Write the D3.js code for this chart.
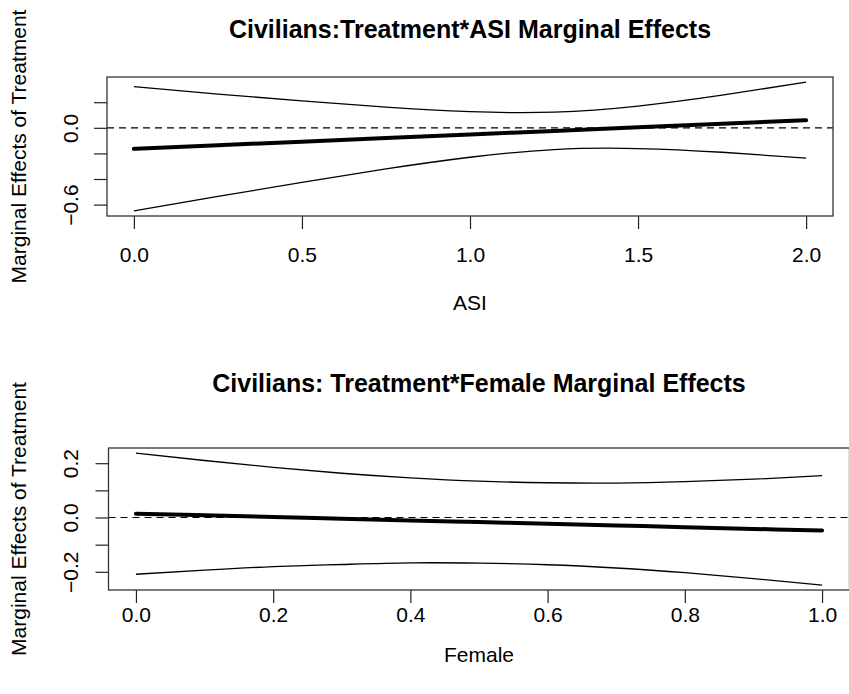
<!DOCTYPE html>
<html>
<head>
<meta charset="utf-8">
<script src="https://cdn.jsdelivr.net/npm/d3@7"></script>
<style>
  body { margin: 0; background: #fff; }
  svg { display: block; font-family: 'Liberation Sans', Arial, Helvetica, sans-serif; }
</style>
</head>
<body>
<svg class="canvas" width="849" height="694"></svg>
<script>
// ASI panel values
const asiX = [0, 0.25, 0.5, 0.75, 1.0, 1.25, 1.5, 1.75, 2.0];
const asiMean = [-0.164, -0.136, -0.108, -0.080, -0.052, -0.024, 0.004, 0.032, 0.060];
const asiUpper = [0.321, 0.264, 0.210, 0.161, 0.126, 0.122, 0.170, 0.255, 0.357];
const asiLower = [-0.649, -0.536, -0.426, -0.321, -0.230, -0.170, -0.162, -0.191, -0.237];
const asiXTicks = [0, 0.5, 1.0, 1.5, 2.0];
const asiYTicks = [-0.6, -0.4, -0.2, 0.0, 0.2];
const asiYLabels = [-0.6, 0.0];

// Female panel values
const femaleX = [0, 0.1, 0.2, 0.3, 0.4, 0.5, 0.6, 0.7, 0.8, 0.9, 1.0];
const femaleMean = [0.014, 0.008, 0.002, -0.005, -0.011, -0.017, -0.023, -0.029, -0.036, -0.042, -0.048];
const femaleUpper = [0.237, 0.210, 0.185, 0.163, 0.146, 0.134, 0.128, 0.127, 0.132, 0.141, 0.154];
const femaleLower = [-0.209, -0.194, -0.181, -0.173, -0.167, -0.168, -0.174, -0.186, -0.203, -0.225, -0.249];
const femaleXTicks = [0, 0.2, 0.4, 0.6, 0.8, 1.0];
const femaleYTicks = [-0.2, -0.1, 0.0, 0.1, 0.2];
const femaleYLabels = [-0.2, 0.0, 0.2];

const svg = d3.select('.canvas');
const fmt = d3.format('.1f');

const drawPanel = (p) => {
    const xScale = d3.scaleLinear().domain(p.xDomain).range([p.left, p.right]);
    const yScale = d3.scaleLinear().domain(p.yDomain).range([p.bottom, p.top]);
    const g = svg.append('g');

    // title
    g.append('text')
        .attr('x', (p.left + p.right) / 2)
        .attr('y', p.titleY)
        .attr('text-anchor', 'middle')
        .style('font-size', '25px')
        .style('font-weight', 'bold')
        .text(p.title);

    // x axis
    const xAxis = d3.axisBottom(xScale)
        .tickValues(p.xTicks)
        .tickFormat(fmt)
        .tickSize(13)
        .tickSizeOuter(0);
    const xg = g.append('g')
        .attr('transform', `translate(0, ${p.bottom})`)
        .call(xAxis);
    xg.select('.domain').remove();
    xg.selectAll('line').attr('stroke', '#222').attr('stroke-width', 1.2);
    xg.selectAll('text')
        .attr('y', null).attr('dy', null)
        .attr('transform', `translate(0, ${p.xLabelY - p.bottom})`)
        .style('font-size', '21px')
        .attr('fill', '#000');

    // y axis, labels only where R kept them
    const yAxis = d3.axisLeft(yScale)
        .tickValues(p.yTicks)
        .tickFormat((d) => (p.yLabels.some((v) => Math.abs(v - d) < 1e-9) ? fmt(d) : ''))
        .tickSize(13)
        .tickSizeOuter(0);
    const yg = g.append('g')
        .attr('transform', `translate(${p.left}, 0)`)
        .call(yAxis);
    yg.select('.domain').remove();
    yg.selectAll('line').attr('stroke', '#222').attr('stroke-width', 1.2);
    yg.selectAll('text')
        .attr('x', null).attr('dy', null)
        .attr('text-anchor', 'middle')
        .attr('transform', `translate(${78 - p.left}, 0) rotate(-90)`)
        .style('font-size', '21px')
        .attr('fill', '#000');

    // axis titles
    g.append('text')
        .attr('x', (p.left + p.right) / 2)
        .attr('y', p.xTitleY)
        .attr('text-anchor', 'middle')
        .style('font-size', '21px')
        .text(p.xTitle);
    g.append('text')
        .attr('transform', `translate(26, ${(p.top + p.bottom) / 2}) rotate(-90)`)
        .attr('text-anchor', 'middle')
        .style('font-size', '21px')
        .text('Marginal Effects of Treatment');

    // zero reference line
    g.append('line')
        .attr('x1', p.left)
        .attr('x2', p.right)
        .attr('y1', yScale(0))
        .attr('y2', yScale(0))
        .attr('stroke', '#000')
        .attr('stroke-width', 1.2)
        .attr('stroke-dasharray', '7,5');

    const line = (ys) => d3.line()
        .x((d, i) => xScale(p.x[i]))
        .y((d) => yScale(d))
        .curve(d3.curveNatural)(ys);

    [p.upper, p.lower].forEach((ys) => {
        g.append('path')
            .attr('d', line(ys))
            .attr('fill', 'none')
            .attr('stroke', '#000')
            .attr('stroke-width', 1.3);
    });
    g.append('path')
        .attr('d', line(p.mean))
        .attr('fill', 'none')
        .attr('stroke', '#000')
        .attr('stroke-width', 4)
        .attr('stroke-linecap', 'round');

    // plot box
    g.append('rect')
        .attr('x', p.left)
        .attr('y', p.top)
        .attr('width', p.right - p.left)
        .attr('height', p.bottom - p.top)
        .attr('fill', 'none')
        .attr('stroke', '#333')
        .attr('stroke-width', 1.3);
};

drawPanel({
    title: 'Civilians:Treatment*ASI Marginal Effects',
    xTitle: 'ASI',
    x: asiX, mean: asiMean, upper: asiUpper, lower: asiLower,
    xTicks: asiXTicks, yTicks: asiYTicks, yLabels: asiYLabels,
    xDomain: [-0.08, 2.08], yDomain: [-0.689, 0.397],
    left: 107, right: 833, top: 77, bottom: 216,
    titleY: 38, xLabelY: 262, xTitleY: 310
});

drawPanel({
    title: 'Civilians: Treatment*Female Marginal Effects',
    xTitle: 'Female',
    x: femaleX, mean: femaleMean, upper: femaleUpper, lower: femaleLower,
    xTicks: femaleXTicks, yTicks: femaleYTicks, yLabels: femaleYLabels,
    xDomain: [-0.04, 1.04], yDomain: [-0.267, 0.256],
    left: 108.5, right: 849.5, top: 448, bottom: 590,
    titleY: 392, xLabelY: 622, xTitleY: 662
});
</script>
</body>
</html>
